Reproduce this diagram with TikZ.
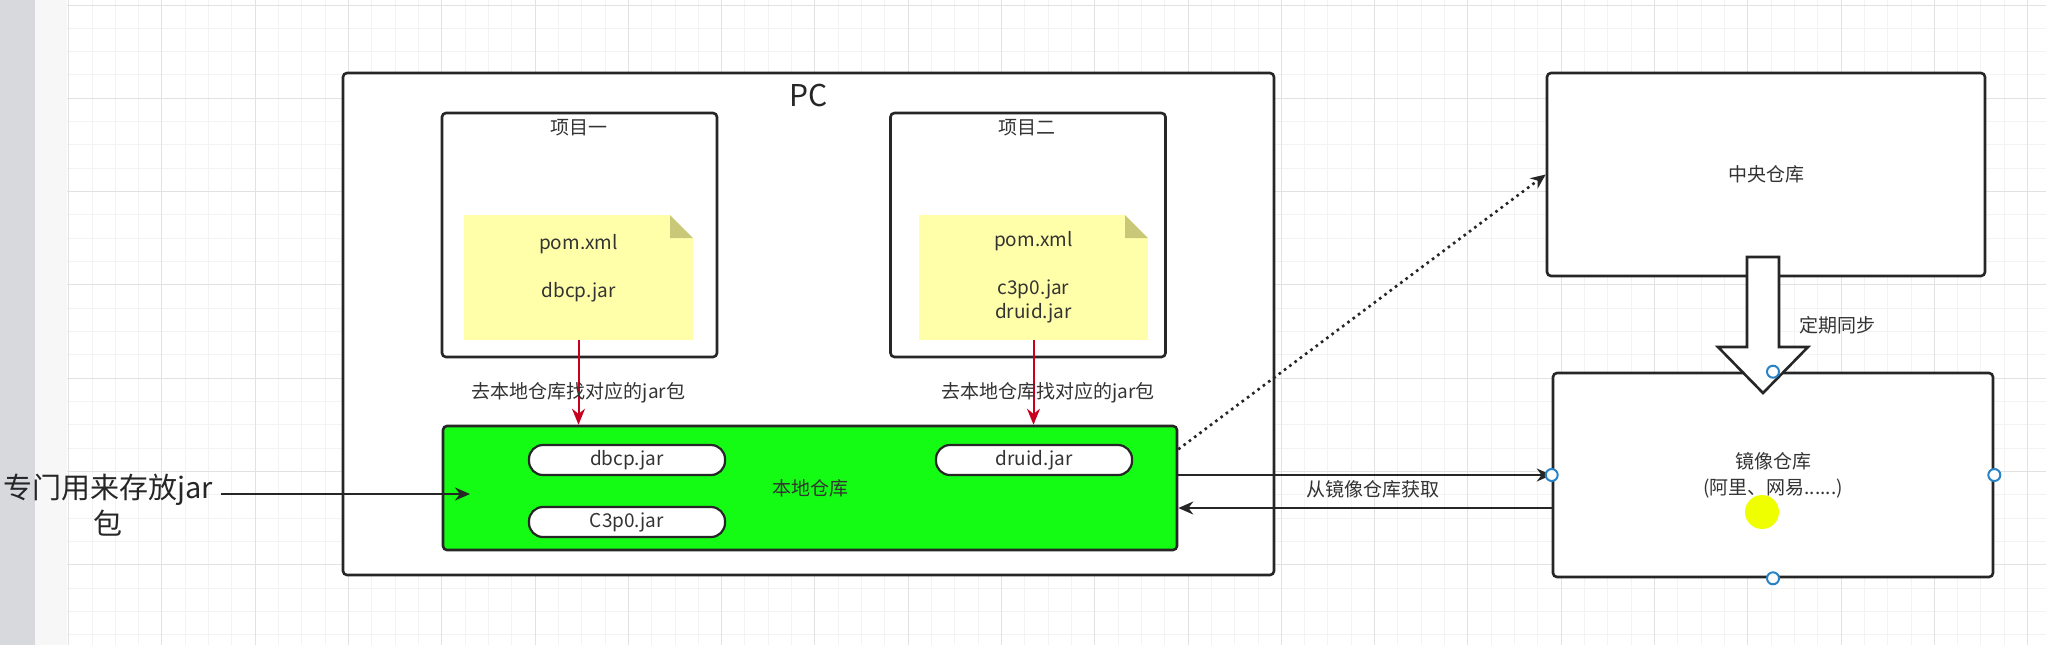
\documentclass[tikz,border=0pt]{standalone}
\usepackage{fontspec}
\setmainfont{Noto Sans CJK SC}
\usepackage{tikz}
\usetikzlibrary{arrows.meta,positioning}

\definecolor{gridminor}{RGB}{243,243,243}
\definecolor{gridmajor}{RGB}{226,226,226}
\definecolor{sidebar}{RGB}{216,217,221}
\definecolor{notefill}{RGB}{255,255,170}
\definecolor{foldfill}{RGB}{200,200,120}
\definecolor{localgreen}{RGB}{20,252,20}
\definecolor{pullred}{RGB}{200,0,30}
\definecolor{handleblue}{RGB}{40,130,200}
\definecolor{cursoryellow}{RGB}{240,255,0}
\definecolor{txt}{RGB}{51,51,51}

\newcommand{\lblfont}{\fontsize{9.5pt}{12pt}\selectfont}

\begin{document}
\begin{tikzpicture}
[x=0.5pt,y=-0.5pt,
 box/.style={draw=black!85,line width=1.3pt,rounded corners=2pt,fill=white,inner sep=0pt,text=txt,font=\lblfont,align=center},
 lbl/.style={text=txt,font=\lblfont,inner sep=1pt},
 jar/.style={draw=black!85,line width=1.1pt,fill=white,rounded corners=7pt,minimum width=98pt,minimum height=15pt,inner sep=0pt,text=txt,font=\lblfont},
 note/.style={fill=notefill,minimum width=114.5pt,minimum height=62.5pt,inner sep=0pt,align=center,text=txt,font=\lblfont,
   path picture={
     \fill[white] ([xshift=-11.5pt]path picture bounding box.north east) -- (path picture bounding box.north east) -- ([yshift=-11.5pt]path picture bounding box.north east) -- cycle;
     \fill[foldfill] ([xshift=-11.5pt]path picture bounding box.north east) -- ([xshift=-11.5pt,yshift=-11.5pt]path picture bounding box.north east) -- ([yshift=-11.5pt]path picture bounding box.north east) -- cycle;}},
 conn/.style={line width=1pt,draw=black!85,-{Stealth[length=7.5pt,width=6.5pt]}},
 pull/.style={line width=1pt,draw=pullred,-{Stealth[length=8pt,width=6.5pt]}},
 handle/.style={draw=handleblue,fill=white,line width=1pt}]

\fill[white] (0,0) rectangle (2046,645);
\useasboundingbox (0,0) rectangle (2046,645);

% background grid of the editor
\foreach \i in {0,...,84} \draw[gridminor,line width=0.5pt] ({68.7+23.32*\i},0) -- ++(0,645);
\foreach \j in {0,...,27} \draw[gridminor,line width=0.5pt] (67,{5+23.32*\j}) -- (2046,{5+23.32*\j});
\foreach \i in {0,...,21} \draw[gridmajor,line width=0.5pt] ({68.7+93.28*\i},0) -- ++(0,645);
\foreach \j in {0,...,6} \draw[gridmajor,line width=0.5pt] (67,{5+93.28*\j}) -- (2046,{5+93.28*\j});
\fill[sidebar] (0,0) rectangle (35,645);
\fill[black!3] (35,0) rectangle (67,645);

\node[box,minimum width=465.5pt,minimum height=251pt] (pc) at (808.5,324) {};
\node[font=\fontsize{15pt}{18pt}\selectfont,text=black!85] (pcname) at (809,95) {PC};

\node[box,minimum width=137.5pt,minimum height=122pt] (proj1) at (579.5,235) {};
\node[box,minimum width=137.5pt,minimum height=122pt] (proj2) at (1028,235) {};
\node[lbl] (proj1name) at (579,128) {项目一};
\node[lbl] (proj2name) at (1027,128) {项目二};

\node[note] (note1) at (578.5,277.5) {pom.xml\\~\\dbcp.jar\\~};
\node[note] (note2) at (1033.5,277.5) {pom.xml\\~\\c3p0.jar\\druid.jar};

\node[box,fill=localgreen,minimum width=367pt,minimum height=62pt] (local) at (810,488) {本地仓库};
\node[jar] (dbcp) at (627,460) {dbcp.jar};
\node[jar] (cpzero) at (627,522) {C3p0.jar};
\node[jar] (druid) at (1034,460) {druid.jar};

\draw[pull] (note1.south) -- (note1.south |- local.north);
\draw[pull] (note2.south) -- (note2.south |- local.north);
\node[lbl] (find1) at (578.5,393) {去本地仓库找对应的jar包};
\node[lbl] (find2) at (1048,393) {去本地仓库找对应的jar包};

\node[font=\fontsize{14.5pt}{18pt}\selectfont,text=black!85,align=center,inner sep=4pt] (store) at (108,505) {专门用来存放jar\\包};
\coordinate (storetip) at (470,494);
\draw[conn] (store.east |- storetip) -- (storetip);

\node[box,minimum width=219pt,minimum height=101.5pt] (central) at (1766,174.5) {中央仓库};
\node[box,minimum width=220pt,minimum height=102pt,font=\fontsize{9.5pt}{13pt}\selectfont] (mirror) at (1773,475) {镜像仓库\\(阿里、网易......)};

\coordinate (synctop) at (1763,257);
\coordinate (synctip) at (1763,393);
\draw[line width=1.3pt,draw=black!85,fill=white,line join=miter] (synctop) ++(-16,0) -- ++(32,0) -- ++(0,90) -- ++(29,0) -- (synctip) -- ++(-45,-46) -- ++(29,0) -- cycle;
\node[lbl] (sync) at (1837,325) {定期同步};

\draw[conn,line width=1.3pt,dash pattern=on 1.3pt off 2pt] (local.6.5) -- (central.west);
\draw[conn] (local.east |- mirror.west) -- (mirror.west);
\coordinate (back) at (1553,508);
\draw[conn] (back) -- (local.east |- back);
\node[lbl] (fetch) at (1373,489) {从镜像仓库获取};

\foreach \a in {north,west,east,south} \draw[handle] (mirror.\a) circle (3pt);
\fill[cursoryellow] (1762,512) circle (8.5pt);
\end{tikzpicture}
\end{document}
